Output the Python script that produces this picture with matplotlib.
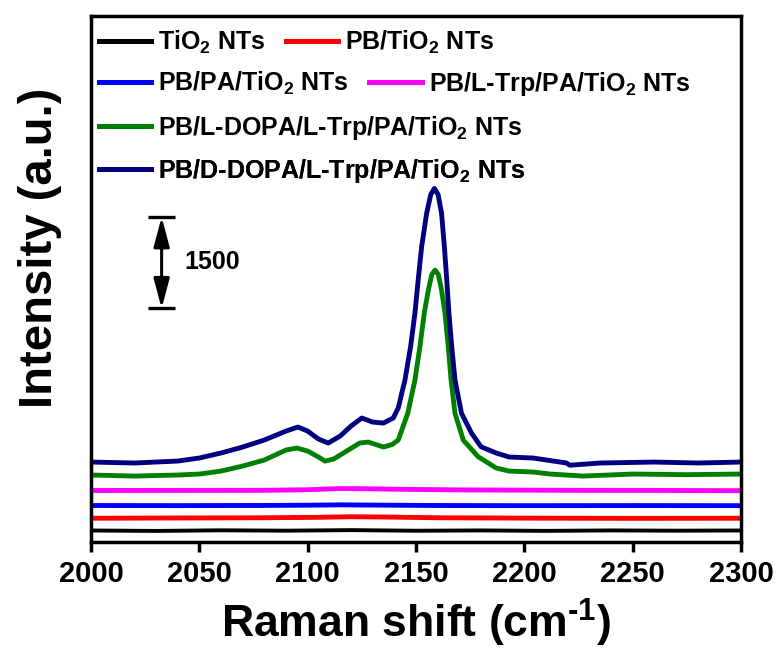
import numpy as np
import matplotlib
matplotlib.use("Agg")
import matplotlib.pyplot as plt

FIGURE_SIZE = (7.81, 6.55)

plt.rcParams["font.family"] = ["Liberation Sans", "DejaVu Sans"]
plt.rcParams["font.weight"] = "bold"
plt.rcParams["mathtext.fontset"] = "custom"
plt.rcParams["mathtext.rm"] = "Liberation Sans:bold"
plt.rcParams["mathtext.it"] = "Liberation Sans:bold"
plt.rcParams["mathtext.bf"] = "Liberation Sans:bold"
plt.rcParams["mathtext.default"] = "rm"

# Raman spectra, values (offset stacked, a.u.)
tio2_x = [2000, 2030, 2060, 2090, 2120, 2150, 2180, 2210, 2240, 2270, 2300]
tio2_y = [189, 182, 192, 186, 195, 185, 190, 183, 190, 186, 189]

pb_x = [2000, 2040, 2080, 2105, 2120, 2135, 2160, 2200, 2250, 2300]
pb_y = [390, 394, 398, 405, 415, 410, 398, 392, 388, 390]

pa_x = [2000, 2040, 2080, 2100, 2115, 2130, 2160, 2200, 2250, 2300]
pa_y = [599, 597, 600, 604, 610, 606, 599, 596, 598, 596]

trp_x = [2000, 2040, 2080, 2100, 2115, 2125, 2140, 2170, 2220, 2260, 2300]
trp_y = [845, 846, 848, 858, 877, 875, 866, 855, 848, 846, 842]

ldopa_x = [2000, 2020, 2040, 2050, 2060, 2070, 2080, 2090, 2095, 2100, 2105,
           2108, 2112, 2118, 2124, 2128, 2135, 2139, 2141.8, 2146.2, 2149.5,
           2151.8, 2153.8, 2155.7, 2157.3, 2158.8, 2160.3, 2161.8, 2163.4,
           2164.9, 2166.2, 2168, 2171.8, 2178.7, 2187, 2193, 2204, 2212, 2227,
           2250, 2275, 2300]
ldopa_y = [1099, 1082, 1099, 1115, 1164, 1246, 1345, 1509, 1542, 1492, 1394,
           1328, 1361, 1492, 1624, 1640, 1558, 1600, 1673, 2111, 2657,
           3203, 3751, 4133, 4390, 4461, 4390, 4133, 3751,
           3203, 2657, 2111, 1673, 1399, 1214, 1164, 1148, 1115, 1082,
           1115, 1105, 1115]

ddopa_x = [2000, 2020, 2040, 2050, 2060, 2070, 2080, 2090, 2095.5, 2100, 2105,
           2109.5, 2115, 2120, 2125, 2130, 2135, 2139.5, 2141.8, 2144.9, 2147.5,
           2149.5, 2151, 2152.6, 2154.9, 2156.8, 2158.5, 2160.2, 2161.8, 2163.1,
           2164.2, 2165.2, 2166.5, 2168, 2171, 2175.6, 2180, 2187, 2193, 2204,
           2219.5, 2221, 2235, 2260, 2280, 2300]
ddopa_y = [1312, 1296, 1328, 1378, 1460, 1558, 1673, 1820, 1886, 1820, 1689,
           1624, 1738, 1902, 2034, 1968, 1952, 2034, 2200, 2657, 3203,
           3751, 4297, 4843, 5391, 5700, 5801, 5700, 5391, 4843,
           4297, 3751, 3203, 2657, 2111, 1788, 1563, 1460, 1394, 1378,
           1296, 1260, 1296, 1312, 1296, 1312]

series = [
    (tio2_x, tio2_y, "TiO$_2$ NTs", "#000000"),
    (pb_x, pb_y, "PB/TiO$_2$ NTs", "#ff0000"),
    (pa_x, pa_y, "PB/PA/TiO$_2$ NTs", "#0000ff"),
    (trp_x, trp_y, "PB/L-Trp/PA/TiO$_2$ NTs", "#ff00ff"),
    (ldopa_x, ldopa_y, "PB/L-DOPA/L-Trp/PA/TiO$_2$ NTs", "#008000"),
    (ddopa_x, ddopa_y, "PB/D-DOPA/L-Trp/PA/TiO$_2$ NTs", "#000080"),
]

scale_x = 2032.6
scale_low = 3833
scale_size = 1500
x_ticks = [2000, 2050, 2100, 2150, 2200, 2250, 2300]


def draw_scale_bar(ax):
    top = scale_low + scale_size
    ax.annotate("", xy=(scale_x, top), xytext=(scale_x, scale_low),
                arrowprops=dict(arrowstyle="<|-|>,head_length=0.9,head_width=0.24",
                                lw=2.2, color="k", mutation_scale=20,
                                shrinkA=0, shrinkB=0))
    ax.hlines([scale_low, top], scale_x - 6.2, scale_x + 6.2, color="k", lw=2.4)
    ax.text(scale_x + 10.5, scale_low + scale_size * 0.51, str(scale_size),
            fontsize=18, fontweight="bold", va="center", ha="left")


def add_legend_rows(ax, lines):
    rows = [(lines[0:2], 0.9506), (lines[2:4], 0.8707),
            (lines[4:5], 0.787), (lines[5:6], 0.7053)]
    for handles, ypos in rows:
        leg = ax.legend(handles=handles, loc="center left",
                        bbox_to_anchor=(0.012, ypos), ncol=len(handles),
                        frameon=False, fontsize=18, handlelength=2.1,
                        handletextpad=0.28, columnspacing=0.8,
                        borderpad=0, borderaxespad=0)
        for h in leg.legend_handles:
            h.set_linewidth(3.6)
        ax.add_artist(leg)


def main():
    fig = plt.figure(figsize=FIGURE_SIZE, dpi=100)
    ax = fig.add_axes([0.1165, 0.1725, 0.8323, 0.8031])

    lines = []
    for x, y, label, color in series:
        lw = 2.8 if color == "#000000" else 3.5
        (ln,) = ax.plot(x, y, color=color, lw=lw, label=label,
                        solid_joinstyle="round")
        lines.append(ln)

    ax.set_xlim(2000, 2300)
    ax.set_ylim(0, 8630)
    ax.set_xticks(x_ticks)
    ax.set_yticks([])
    ax.tick_params(axis="x", direction="out", length=7, width=2.5,
                   labelsize=21, pad=6, top=False)
    for lbl in ax.get_xticklabels():
        lbl.set_fontweight("bold")
    for sp in ax.spines.values():
        sp.set_linewidth(2.5)

    ax.set_xlabel(r"Raman shift (cm$^{\text{-}1}$)", fontsize=32,
                  fontweight="bold", labelpad=6)
    ax.set_ylabel("Intensity (a.u.)", fontsize=34, fontweight="bold")
    ax.yaxis.set_label_coords(-0.045, 0.559)

    draw_scale_bar(ax)
    add_legend_rows(ax, lines)

    fig.savefig("out.png", dpi=100)


main()
